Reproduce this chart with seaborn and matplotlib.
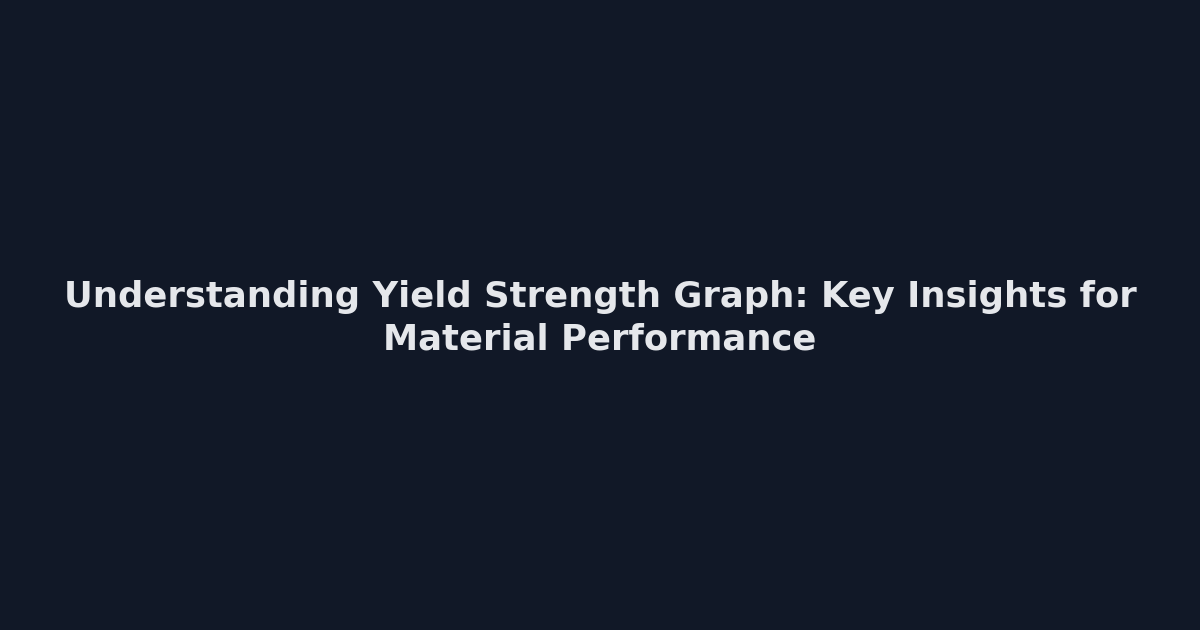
import matplotlib
import seaborn as sns

matplotlib.use('Agg')
import matplotlib.pyplot as plt

# Title card text, one entry per line
title_lines = ['Understanding Yield Strength Graph: Key Insights for',
               'Material Performance']
bg_color = '#111827'
text_color = '#e5e7eb'


def main():
    sns.set_theme(style='white', rc={'figure.facecolor': bg_color, 'axes.facecolor': bg_color})
    plt.rcParams['font.family'] = ['DejaVu Sans']

    fig = plt.figure(figsize=(12, 6.3), dpi=100)
    ax = fig.add_axes([0, 0, 1, 1])
    ax.set_axis_off()
    ax.set_xlim(0, 1)
    ax.set_ylim(0, 1)

    ax.text(0.5, 1 - 297 / 630, title_lines[0], ha='center', va='center',
            fontsize=25.5, fontweight='bold', color=text_color)
    ax.text(0.5, 1 - 340 / 630, title_lines[1], ha='center', va='center',
            fontsize=25.5, fontweight='bold', color=text_color)

    fig.savefig('out.png', dpi=100, facecolor=bg_color)


if __name__ == '__main__':
    main()
